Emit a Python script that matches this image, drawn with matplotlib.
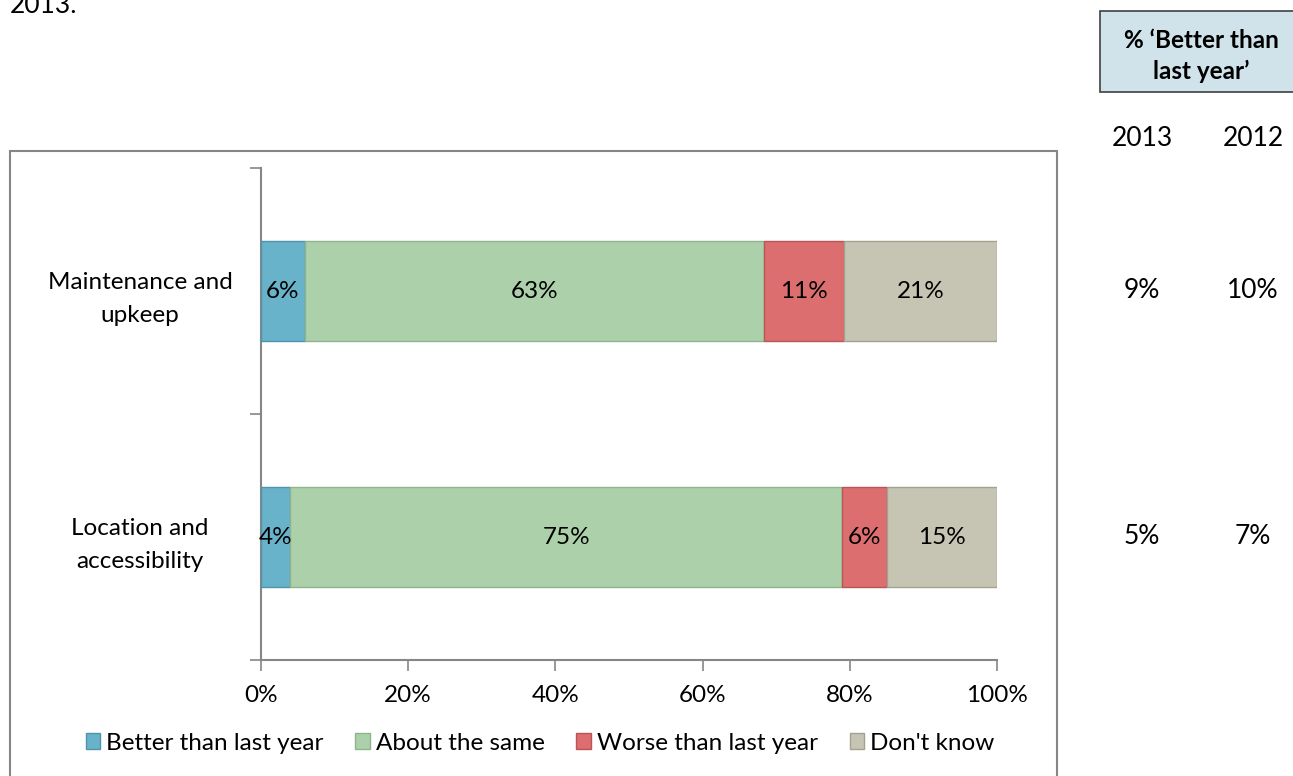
import matplotlib
matplotlib.use('Agg')
import matplotlib.pyplot as plt
import matplotlib.patches as patches
import matplotlib.transforms as mtransforms

plt.rcParams['font.family'] = ['Lato', 'DejaVu Sans']

# data (labels as printed, bars are 100% stacked)
categories = ['Location and\naccessibility', 'Maintenance and\nupkeep']
series_names = ['Better than last year', 'About the same', 'Worse than last year', "Don't know"]
better = [4, 6]
same = [75, 63]
worse = [6, 11]
dont_know = [15, 21]
better_2013 = ['5%', '9%']
better_2012 = ['7%', '10%']
xticks = [0, 20, 40, 60, 80, 100]

colors = ['#69b3ca', '#abd0aa', '#dc6e6f', '#c6c4b2']
edges = ['#4f94aa', '#8fb38e', '#b95556', '#a3a190']
axis_gray = '#868686'
fs = 17.5
fs_side = 19

W, H = 1293, 776
fig = plt.figure(figsize=(W / 100, H / 100), dpi=100)
ax = fig.add_axes([261 / W, 1 - 660 / H, (997 - 261) / W, (660 - 168) / H])

series = [better, same, worse, dont_know]
ypos = list(range(len(categories)))
totals = [sum(s[i] for s in series) for i in ypos]
left = [0.0] * len(categories)
for name, vals, c, ec in zip(series_names, series, colors, edges):
    widths = [v / t * 100 for v, t in zip(vals, totals)]
    bars = ax.barh(ypos, widths, left=left, height=0.41, color=c, edgecolor=ec,
                   linewidth=1.0, label=name, zorder=3)
    for b, v in zip(bars, vals):
        ax.text(b.get_x() + b.get_width() / 2, b.get_y() + b.get_height() / 2,
                '%d%%' % v, ha='center', va='center', fontsize=fs, color='black', zorder=4)
    left = [l + w for l, w in zip(left, widths)]

ax.set_xlim(0, 100)
ax.set_ylim(-0.5, len(categories) - 0.5)
ax.set_xticks(xticks)
ax.set_xticklabels(['%d%%' % t for t in xticks], fontsize=fs)
ax.set_yticks(ypos)
ax.set_yticklabels(categories, fontsize=fs, linespacing=1.7)
ax.tick_params(axis='y', which='major', length=0, pad=0)
ax.set_yticks([-0.5, 0.5, 1.5], minor=True)
ax.tick_params(axis='y', which='minor', length=8, width=1.2, color=axis_gray, direction='out')
ax.tick_params(axis='x', length=8, width=1.2, color=axis_gray, pad=10)
for lab in ax.get_yticklabels():
    lab.set_horizontalalignment('center')
    lab.set_x(-0.1645)
for s in ['top', 'right']:
    ax.spines[s].set_visible(False)
for s in ['left', 'bottom']:
    ax.spines[s].set_color(axis_gray)
    ax.spines[s].set_linewidth(1.5)

# outer chart border
fig.patches.append(patches.Rectangle((10 / W, -0.05), (1057 - 10) / W, 1 - 151 / H + 0.05,
                                     transform=fig.transFigure, fill=False,
                                     edgecolor=axis_gray, linewidth=1.5))

leg = fig.legend(loc='center', bbox_to_anchor=(540 / W, 1 - 743 / H), ncol=4, frameon=False,
                 fontsize=fs, handlelength=0.6, handleheight=0.6, handletextpad=0.25,
                 columnspacing=1.3)

# side table
fig.patches.append(patches.Rectangle((1100 / W, 1 - 92 / H), 0.2, 81 / H,
                                     transform=fig.transFigure, facecolor='#d0e3ea',
                                     edgecolor='#404040', linewidth=1.2))
fig.text(1201 / W, 1 - 56 / H, '% \u2018Better than\nlast year\u2019', ha='center', va='center',
         fontsize=fs, fontweight='bold', linespacing=1.4)
fig.text(1142 / W, 1 - 138 / H, '2013', ha='center', va='center', fontsize=fs_side)
fig.text(1253 / W, 1 - 138 / H, '2012', ha='center', va='center', fontsize=fs_side)
trans = mtransforms.blended_transform_factory(fig.transFigure, ax.transData)
for y, a, b in zip(ypos, better_2013, better_2012):
    ax.text(1142 / W, y, a, transform=trans, ha='center', va='center', fontsize=fs_side, clip_on=False)
    ax.text(1253 / W, y, b, transform=trans, ha='center', va='center', fontsize=fs_side, clip_on=False)

# caption tail cut off at the top edge, as in the source
fig.text(10 / W, 1 - 13 / H, '2013.', ha='left', va='baseline', fontsize=fs_side)

fig.savefig('out.png', dpi=100)
